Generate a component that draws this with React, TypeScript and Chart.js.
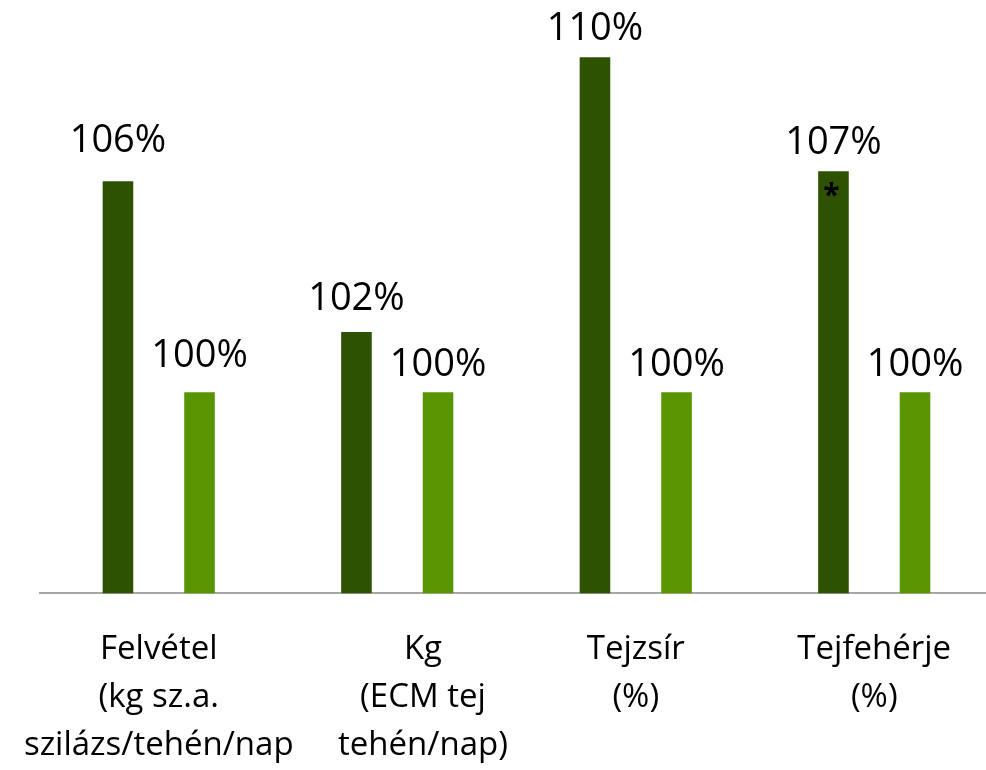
import React, { useEffect, useRef } from "react";
import { Chart, registerables } from "chart.js";

Chart.register(...registerables);

// Category labels (multi-line)
const categories: string[][] = [
  ["Felvétel", "(kg sz.a.", "szilázs/tehén/nap"],
  ["      Kg", "      (ECM tej", "      tehén/nap)"],
  ["Tejzsír", "(%)"],
  ["Tejfehérje", "(%)"],
];

// Relative values (%), treated group vs. control
const treatedValues = [106.3, 101.8, 110.0, 106.6];
const controlValues = [100, 100, 100, 100];

// Categories whose treated bar carries a significance mark
const significant = [false, false, false, true];

const FONT = "'Open Sans', 'Noto Sans', sans-serif";
const DARK = "#2d5201";
const LIGHT = "#589500";

// gap between a bar top and the baseline of its value label, per dataset and category
const labelGap = [
  [29, 22, 17, 17],
  [25, 16, 16, 16],
];

const valueLabels = {
  id: "valueLabels",
  afterDatasetsDraw(chart: any) {
    const ctx = chart.ctx as CanvasRenderingContext2D;
    ctx.save();
    ctx.fillStyle = "#000";
    ctx.textAlign = "center";
    ctx.textBaseline = "alphabetic";
    ctx.font = `38px ${FONT}`;
    chart.data.datasets.forEach((ds: any, di: number) => {
      const meta = chart.getDatasetMeta(di);
      meta.data.forEach((bar: any, i: number) => {
        const v = ds.data[i] as number;
        ctx.fillText(`${Math.round(v)}%`, bar.x, bar.y - labelGap[di][i]);
      });
    });
    // significance asterisk inside the treated bar
    const meta0 = chart.getDatasetMeta(0);
    ctx.font = `bold 30px ${FONT}`;
    meta0.data.forEach((bar: any, i: number) => {
      if (significant[i]) ctx.fillText("*", bar.x - 2, bar.y + 34);
    });
    ctx.restore();
  },
};

export default function App() {
  const ref = useRef<HTMLCanvasElement | null>(null);

  useEffect(() => {
    if (!ref.current) return;
    const chart = new Chart(ref.current, {
      type: "bar",
      data: {
        labels: categories,
        datasets: [
          {
            label: "Kezelt",
            data: treatedValues,
            backgroundColor: DARK,
            barPercentage: 0.375,
            categoryPercentage: 0.684,
          },
          {
            label: "Kontroll",
            data: controlValues,
            backgroundColor: LIGHT,
            barPercentage: 0.375,
            categoryPercentage: 0.684,
          },
        ],
      },
      options: {
        responsive: false,
        animation: false,
        devicePixelRatio: 1,
        layout: { padding: { left: 39.5, right: 0.5, top: 7, bottom: 0 } },
        plugins: {
          legend: { display: false },
          tooltip: { enabled: false },
        },
        scales: {
          x: {
            grid: { display: false, drawTicks: false },
            border: { display: true, color: "#a6a6a6", width: 2 },
            ticks: {
              color: "#000",
              padding: 32,
              maxRotation: 0,
              autoSkip: false,
              font: { family: FONT, size: 33, lineHeight: 48 / 33 },
            },
            afterFit: (scale: any) => {
              scale.height = 176.7;
              scale.paddingLeft = 0;
              scale.paddingRight = 0;
            },
          },
          y: {
            display: false,
            min: 94,
            max: 111.5,
          },
        },
      },
      plugins: [valueLabels],
    });
    return () => chart.destroy();
  }, []);

  return (
    <div
      style={{
        position: "fixed",
        left: 0,
        top: 0,
        width: 986,
        height: 770,
        overflow: "hidden",
        background: "#fff",
      }}
    >
      <canvas ref={ref} width={994} height={770} style={{ width: 994, height: 770, display: "block" }} />
    </div>
  );
}
